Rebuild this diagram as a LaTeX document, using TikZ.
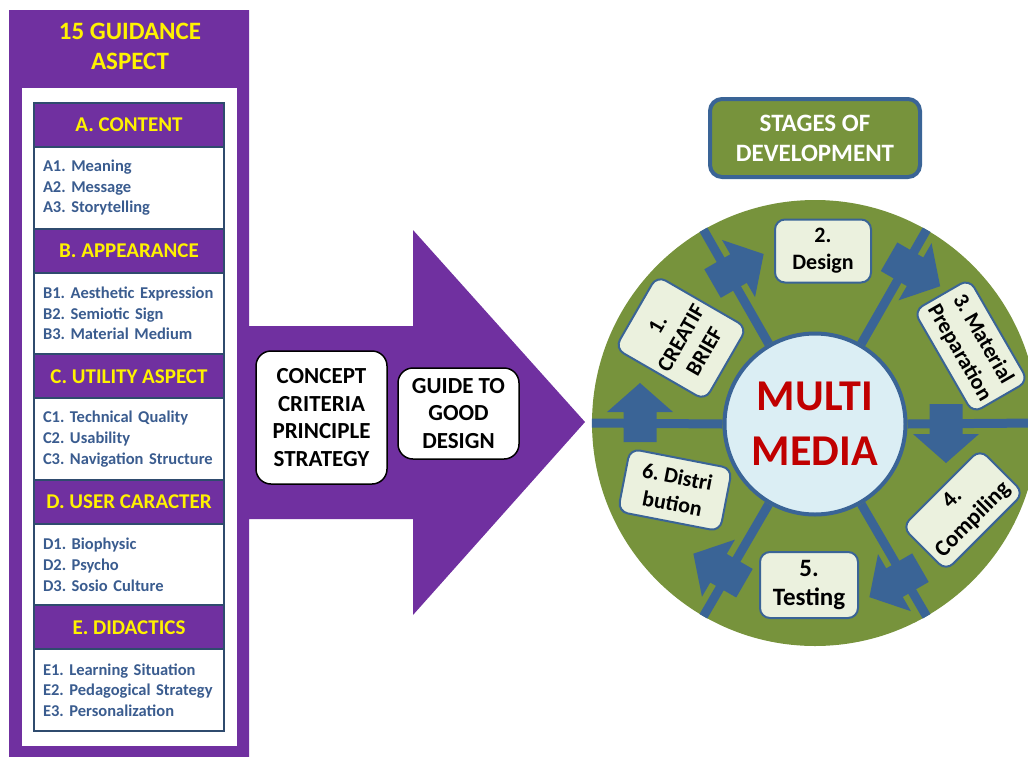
\documentclass[tikz,border=0pt]{standalone}
\usepackage{fontspec}
\setmainfont{Carlito}
\usetikzlibrary{positioning}

\definecolor{aspectpurple}{HTML}{7030A0}
\definecolor{sectionline}{HTML}{2F4B6E}
\definecolor{itemblue}{HTML}{3A5C8F}
\definecolor{wheelgreen}{HTML}{77933C}
\definecolor{spokeblue}{HTML}{3A6496}
\definecolor{stagefill}{HTML}{EBF1DE}
\definecolor{hubblue}{HTML}{DBEEF4}
\definecolor{multired}{HTML}{C00000}

\tikzset{
  aspecthead/.style={draw=sectionline, line width=2, fill=aspectpurple, text=yellow,
    font=\bfseries\fontsize{21}{25}\selectfont, minimum width=190, minimum height=44,
    inner sep=0, outer sep=0},
  aspectbody/.style={draw=sectionline, line width=2, fill=white, text=itemblue,
    font=\bfseries\fontsize{16.5}{20.7}\selectfont, align=left, text width=172,
    inner xsep=9, inner ysep=0, minimum height=81.6, outer sep=0},
  whitebox/.style={draw=black, line width=1.5, fill=white, rounded corners=15,
    font=\bfseries\fontsize{23}{27.7}\selectfont, align=center, inner sep=0},
  stagebox/.style={draw=spokeblue, line width=2, fill=stagefill, rounded corners=10,
    font=\bfseries\fontsize{22}{27}\selectfont, align=center, inner sep=0},
  spoke/.style={draw=spokeblue, line width=9},
}

\begin{document}
\frenchspacing
\begin{tikzpicture}[x=1pt, y=1pt]
    \useasboundingbox (0,0) rectangle (1028,-756);

    % Purple panel with the big arrow
    \fill[aspectpurple] (9,-10) -- (249,-10) -- (249,-326) -- (413,-326) -- (413,-230)
        -- (585,-422) -- (413,-615) -- (413,-519) -- (249,-519) -- (249,-770)
        -- (9,-770) -- cycle;
    \fill[white] (22,-88) rectangle (237,-746);
    \node[text=yellow, font=\bfseries\fontsize{25}{30}\selectfont, align=center]
        (title) at (130,-46) {15 GUIDANCE\\ASPECT};

    % Aspect sections
    \node[aspecthead] (headA) at (129,-125) {A. CONTENT};
    \node[aspectbody, below=0pt of headA] (bodyA) {A1. Meaning\\A2. Message\\A3. Storytelling};
    \node[aspecthead, below=0pt of bodyA] (headB) {B. APPEARANCE};
    \node[aspectbody, below=0pt of headB] (bodyB) {B1. Aesthetic Expression\\B2. Semiotic Sign\\B3. Material Medium};
    \node[aspecthead, below=0pt of bodyB] (headC) {C. UTILITY ASPECT};
    \node[aspectbody, below=0pt of headC] (bodyC) {C1. Technical Quality\\C2. Usability\\C3. Navigation Structure};
    \node[aspecthead, below=0pt of bodyC] (headD) {D. USER CARACTER};
    \node[aspectbody, below=0pt of headD] (bodyD) {D1. Biophysic\\D2. Psycho\\D3. Sosio Culture};
    \node[aspecthead, below=0pt of bodyD] (headE) {E. DIDACTICS};
    \node[aspectbody, below=0pt of headE] (bodyE) {E1. Learning Situation\\E2. Pedagogical Strategy\\E3. Personalization};

    % Boxes on the arrow
    \node[whitebox, minimum width=131, minimum height=133] (concept) at (321.5,-417.5)
        {CONCEPT\\CRITERIA\\PRINCIPLE\\STRATEGY};
    \node[whitebox, minimum width=121, minimum height=91] (guide) at (458.5,-413.5)
        {GUIDE TO\\GOOD\\DESIGN};

    % Stages wheel
    \node[draw=spokeblue, line width=4, fill=wheelgreen, rounded corners=12, text=white,
        font=\bfseries\fontsize{25}{30}\selectfont, align=center, minimum width=210,
        minimum height=78, inner sep=0] (stages) at (815,-138) {STAGES OF\\DEVELOPMENT};
    \node[circle, fill=wheelgreen, minimum size=446, inner sep=0] (wheel) at (815,-423) {};
    \node[circle, draw=spokeblue, line width=4, fill=hubblue, minimum size=181, inner sep=0,
        text=multired, font=\bfseries\fontsize{44}{55}\selectfont, align=center]
        (hub) at (815,-424) {MULTI\\MEDIA};
    \foreach \ang in {0,60,...,300}
        \draw[spoke] (hub.\ang) -- (wheel.\ang);

    % Block arrows turning clockwise
    \foreach \ang/\rad in {180/175, 120/172, 60/181, 0/131, 300/178, 240/174}
        \fill[spokeblue, shift={(wheel.center)}, rotate=\ang]
            (\rad-16.5,19) -- (\rad+16.5,19) -- (\rad+16.5,-11) -- (\rad+33,-11)
            -- (\rad,-40) -- (\rad-33,-11) -- (\rad-16.5,-11) -- cycle;

    % Stage boxes
    \node[stagebox, rotate=60, minimum width=84, minimum height=104] (brief) at (681,-338)
        {1.\\CREATIF\\BRIEF};
    \node[stagebox, minimum width=96, minimum height=63] (design) at (823,-251)
        {2.\\Design};
    \node[stagebox, rotate=-60, minimum width=118, minimum height=64] (material) at (971,-346)
        {3. Material\\Preparation};
    \node[stagebox, rotate=45, minimum width=110, minimum height=62,
        font=\bfseries\fontsize{23}{29}\selectfont] (compiling) at (963,-510)
        {4.\\Compiling};
    \node[stagebox, minimum width=98, minimum height=66,
        font=\bfseries\fontsize{25}{29}\selectfont] (testing) at (809,-585)
        {5.\\Testing};
    \node[stagebox, rotate=-11, minimum width=104, minimum height=64] (distribution) at (675,-490)
        {6. Distri\\bution};
\end{tikzpicture}
\end{document}
